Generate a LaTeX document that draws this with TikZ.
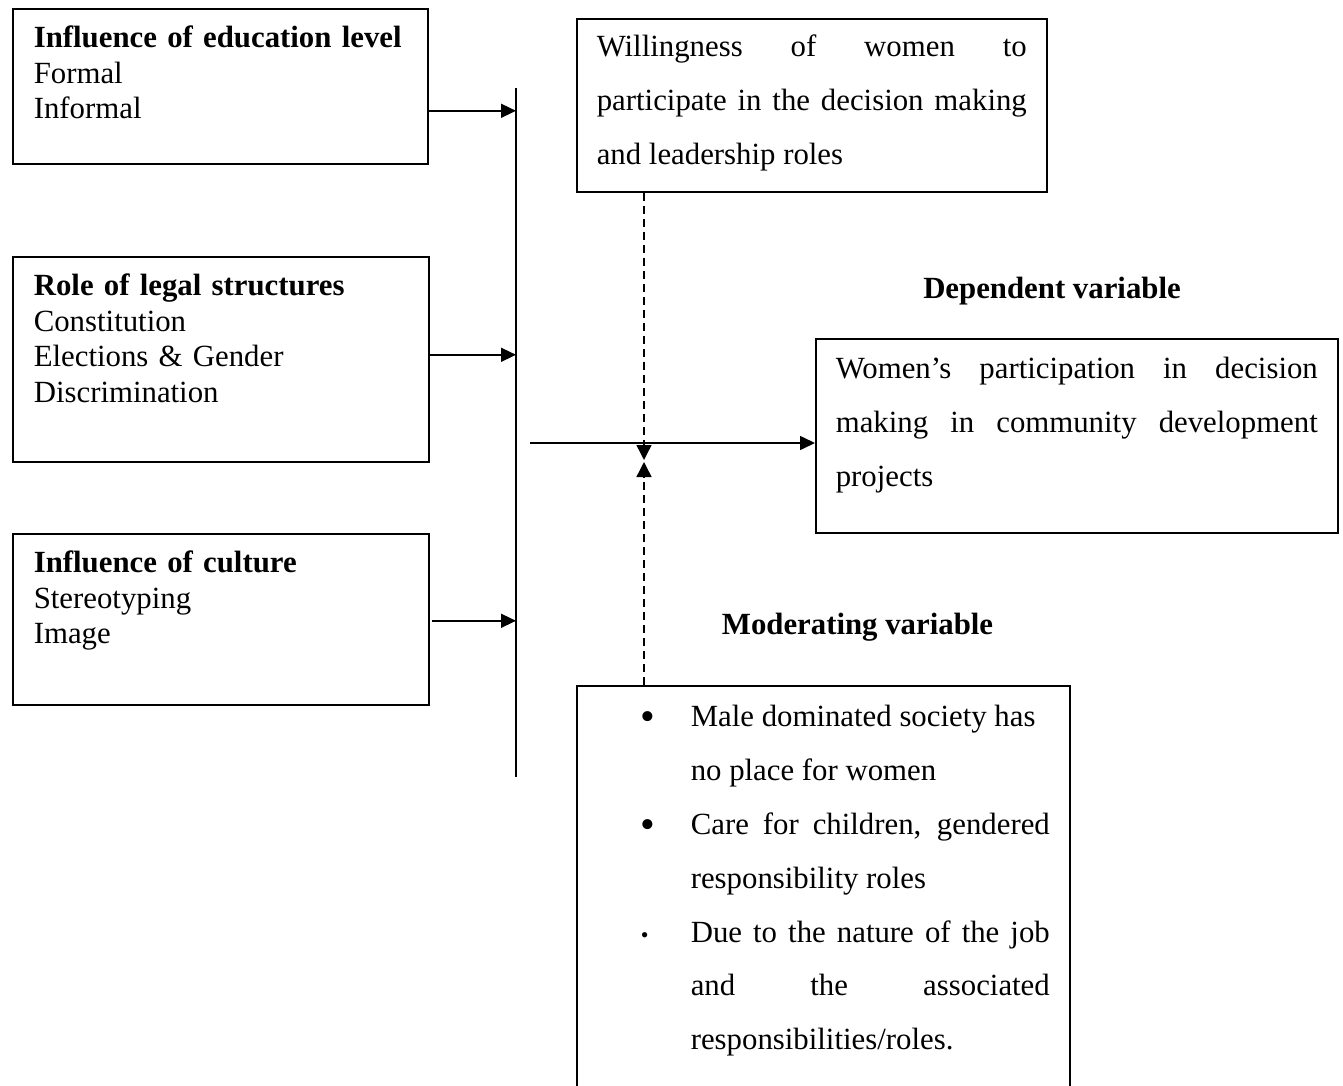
\documentclass[tikz,border=0pt]{standalone}
\usepackage{fontspec}
\setmainfont{Liberation Serif}
\usetikzlibrary{arrows.meta,positioning}
\newcommand{\boxfont}{\fontsize{30.8}{35.5}\selectfont}
\newcommand{\parafont}{\fontsize{30.8}{53.8}\selectfont\tolerance=10000\hyphenpenalty=10000}
\newcommand{\bigdot}{\raisebox{-4pt}{\fontsize{42}{42}\selectfont\textbullet}}
\newcommand{\bulletitem}[2][\bigdot]{\hangindent=94pt\hangafter=1\noindent\makebox[94pt][l]{\hspace{44pt}#1}#2\par}
\tikzstyle{indep} = [draw, line width=1.6pt, anchor=north west, inner xsep=21pt, inner ysep=0pt, text height=39pt, align=left, font=\boxfont]
\tikzstyle{para} = [draw, line width=1.6pt, anchor=north west, inner xsep=20pt, inner ysep=0pt, align=justify, font=\parafont]
\tikzstyle{arrow} = [line width=1.6pt, -{Triangle[length=15pt,width=14pt]}]
\tikzstyle{dasharrow} = [line width=1.4pt, dash pattern=on 8pt off 5pt, -{Triangle[length=15pt,width=15pt]}]

\begin{document}
\begin{tikzpicture}[x=1pt, y=-1pt]
\path[use as bounding box, clip] (0,0) rectangle (1343,1086);

% Independent variables
\node[indep, text width=373pt, text depth=116pt] (edu) at (12,8) {\textbf{Influence of education level}\\Formal\\Informal};
\node[indep, text width=374pt, text depth=166pt] (legal) at (12,256) {\textbf{Role of legal structures}\\Constitution\\Elections \& Gender\\Discrimination};
\node[indep, text width=374pt, text depth=132pt] (cult) at (12,533) {\textbf{Influence of culture}\\Stereotyping\\Image};

% Intervening and dependent
\node[para, text width=430pt, text height=38pt, text depth=135pt] (will) at (576,18) {Willingness of women to\linebreak participate in the decision making\linebreak and leadership roles};
\node[para, text width=482pt, text height=40pt, text depth=154pt] (part) at (815,338) {Women’s participation in decision\linebreak making in community development\linebreak projects};

% Moderating
\node[para, text width=453pt, text height=41pt, text depth=450pt] (mod) at (576,685) {%
\bulletitem{Male dominated society has\newline no place for women}
\bulletitem{Care for children, gendered\linebreak responsibility roles}
\bulletitem[{\fontsize{22}{22}\selectfont\textbullet}]{Due to the nature of the job\linebreak and the associated\linebreak responsibilities/roles.}};

% Labels
\node[anchor=base, font=\boxfont\bfseries] (deplabel) at (1052,298) {Dependent variable};
\node[anchor=base, font=\boxfont\bfseries] (modlabel) at (857.5,634) {Moderating variable};

% Bar and arrows
\coordinate (bartop) at (516,88);
\coordinate (barbot) at (516,777);
\draw[line width=1.7pt] (bartop) -- (barbot);

\coordinate (e1) at ([yshift=-24.5pt]edu.east);
\coordinate (e2) at ([yshift=4.5pt]legal.east);
\coordinate (e3) at ([xshift=2pt,yshift=-1.5pt]cult.east);
\draw[arrow] (e1) -- (e1 -| bartop);
\draw[arrow] (e2) -- (e2 -| bartop);
\draw[arrow] (e3) -- (e3 -| bartop);

\coordinate (hstart) at (530,443);
\draw[arrow] (hstart) -- (hstart -| part.west);

\coordinate (meet) at (644,443);
\draw[dasharrow] (will.south west -| meet) -- ([yshift=-17pt]meet);
\draw[dasharrow] (mod.north west -| meet) -- ([yshift=-19pt]meet);
\end{tikzpicture}
\end{document}
